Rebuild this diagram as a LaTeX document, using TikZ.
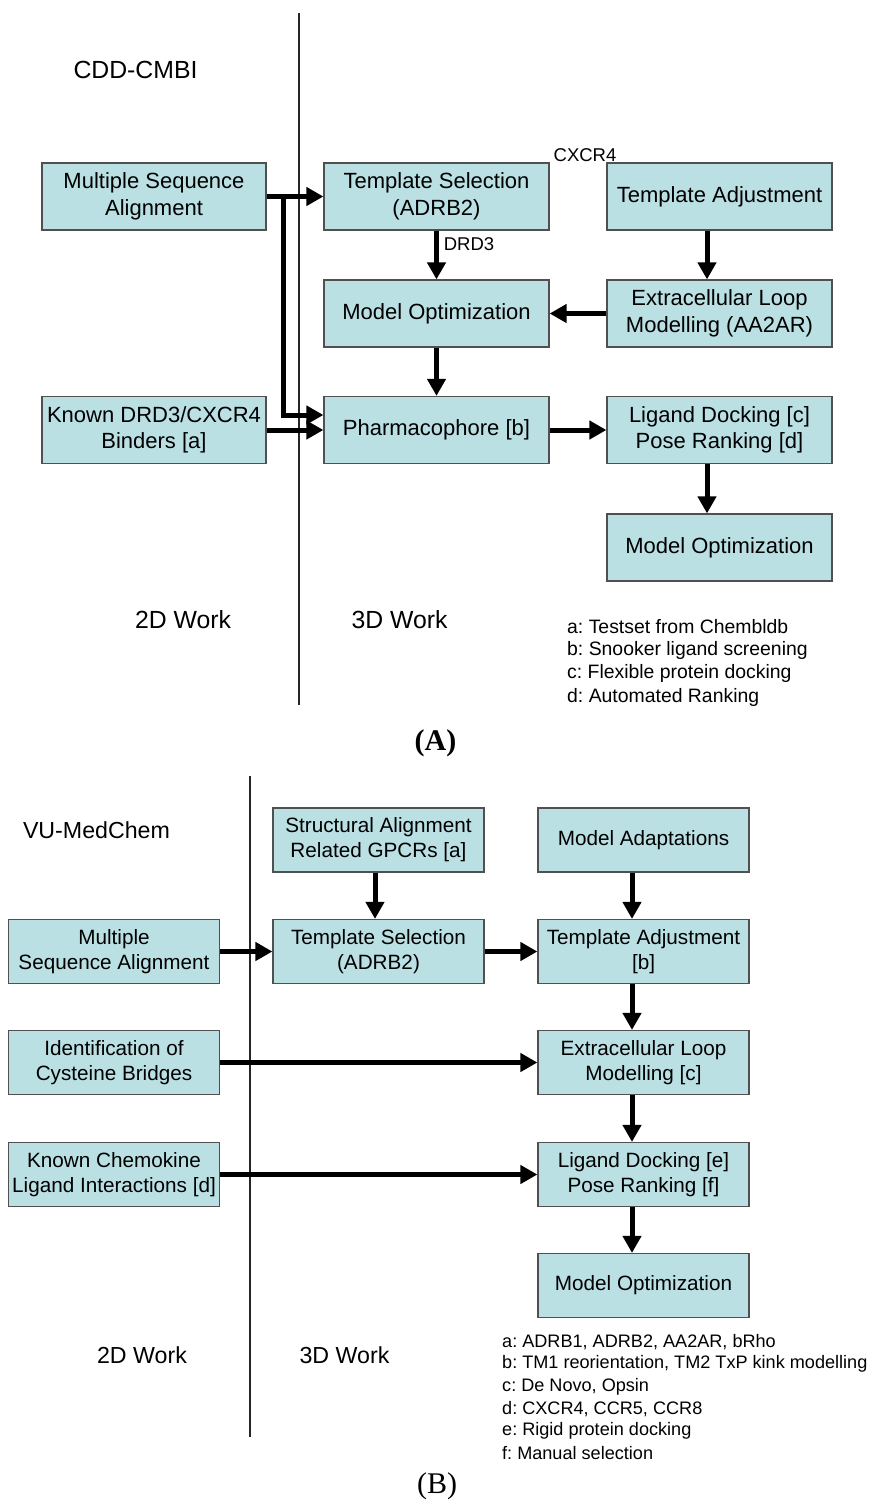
\documentclass[tikz,border=0pt]{standalone}
\usepackage{fontspec}
\setmainfont{Liberation Sans}
\newfontfamily\capfont{Liberation Serif}
\usetikzlibrary{arrows.meta,calc}
\definecolor{boxfill}{RGB}{186,224,228}
\definecolor{boxline}{RGB}{80,80,80}
\frenchspacing
\tikzset{
  box/.style={draw=boxline, fill=boxfill, line width=1.2pt, align=center, inner sep=0pt},
  boxA/.style={box, minimum width=225pt, minimum height=67pt, font=\fontsize{22}{26.5}\selectfont},
  boxB/.style={box, minimum width=211pt, minimum height=64pt, font=\fontsize{20.7}{25}\selectfont},
  arr/.style={line width=5pt, -{Triangle[length=17pt,width=18pt]}},
  lblA/.style={inner sep=0pt, font=\fontsize{24.8}{28}\selectfont},
  lblB/.style={inner sep=0pt, font=\fontsize{23.2}{27}\selectfont},
  small/.style={inner sep=0pt, font=\fontsize{18.5}{22}\selectfont},
  noteA/.style={anchor=west, inner sep=0pt, font=\fontsize{19.4}{23}\selectfont},
  noteB/.style={anchor=west, inner sep=0pt, font=\fontsize{18.1}{22}\selectfont},
  divider/.style={line width=1.2pt, draw=black!85},
  caption/.style={inner sep=0pt, font=\capfont\fontsize{30}{34}\selectfont}
}
\begin{document}
\begin{tikzpicture}[x=1pt,y=-1pt]
\useasboundingbox (0,0) rectangle (870,1504);

% ---------------- Panel A ----------------
\coordinate (lineAtop) at (299,13);
\coordinate (lineAbot) at (299,705);
\draw[divider] (lineAtop) -- (lineAbot);

\node[lblA] (cdd) at (135.5,70) {CDD-CMBI};

\node[boxA, minimum width=224pt] (msaA) at (154,196.5) {Multiple Sequence\\Alignment};
\node[boxA, minimum width=224pt] (knownA) at (154,430) {Known DRD3/CXCR4\\Binders [a]};
\node[boxA] (tsA) at (436.5,196.5) {Template Selection\\(ADRB2)};
\node[boxA] (moA) at (436.5,313.5) {Model Optimization};
\node[boxA] (phA) at (436.5,430) {Pharmacophore [b]};
\node[boxA] (taA) at (719.5,196.5) {Template Adjustment};
\node[boxA] (elmA) at (719.5,313.5) {Extracellular Loop\\Modelling (AA2AR)};
\node[boxA] (ldA) at (719.5,430) {Ligand Docking [c]\\Pose Ranking [d]};
\node[boxA] (mo2A) at (719.5,547.5) {Model Optimization};

\node[small] (cxcr) at (585,155) {CXCR4};
\node[small] (drd) at (469,244) {DRD3};

\draw[arr] (msaA.east) -- (tsA.west);
\coordinate (brA) at (283,196.5);
\draw[arr] (brA) |- ($(phA.west)+(0,-15)$);
\draw[arr] (knownA.east) -- (phA.west);
\draw[arr] (tsA.south) -- (moA.north);
\draw[arr] ($(taA.south)+(-12.5,0)$) -- ($(elmA.north)+(-12.5,0)$);
\draw[arr] (elmA.west) -- (moA.east);
\draw[arr] (moA.south) -- (phA.north);
\draw[arr] (phA.east) -- (ldA.west);
\draw[arr] ($(ldA.south)+(-12.5,0)$) -- ($(mo2A.north)+(-12.5,0)$);

\node[lblA] (twoA) at (183,620) {2D Work};
\node[lblA] (threeA) at (399.5,620) {3D Work};

\node[noteA] (fa1) at (567,627) {a: Testset from Chembldb};
\node[noteA] (fa2) at (567,650.3) {b: Snooker ligand screening};
\node[noteA] (fa3) at (567,673.6) {c: Flexible protein docking};
\node[noteA] (fa4) at (567,697) {d: Automated Ranking};

\node[caption] (capA) at (435.5,743) {\textbf{(A)}};

% ---------------- Panel B ----------------
\coordinate (lineBtop) at (250,776);
\coordinate (lineBbot) at (250,1437);
\draw[divider] (lineBtop) -- (lineBbot);

\node[lblB] (vu) at (96.5,830) {VU-MedChem};

\node[boxB] (saB) at (378.5,840) {Structural Alignment\\Related GPCRs [a]};
\node[boxB] (maB) at (643.5,840) {Model Adaptations};
\node[boxB] (msaB) at (114,951.5) {Multiple\\Sequence Alignment};
\node[boxB] (tsB) at (378.5,951.5) {Template Selection\\(ADRB2)};
\node[boxB] (taB) at (643.5,951.5) {Template Adjustment\\{[b]}};
\node[boxB] (idB) at (114,1062.5) {Identification of\\Cysteine Bridges};
\node[boxB] (elmB) at (643.5,1062.5) {Extracellular Loop\\Modelling [c]};
\node[boxB] (knB) at (114,1174.5) {Known Chemokine\\Ligand Interactions [d]};
\node[boxB] (ldB) at (643.5,1174.5) {Ligand Docking [e]\\Pose Ranking [f]};
\node[boxB] (moB) at (643.5,1285.5) {Model Optimization};

\draw[arr] ($(saB.south)+(-3.5,0)$) -- ($(tsB.north)+(-3.5,0)$);
\draw[arr] ($(maB.south)+(-11.5,0)$) -- ($(taB.north)+(-11.5,0)$);
\draw[arr] (msaB.east) -- (tsB.west);
\draw[arr] (tsB.east) -- (taB.west);
\draw[arr] ($(taB.south)+(-11.5,0)$) -- ($(elmB.north)+(-11.5,0)$);
\draw[arr] (idB.east) -- (elmB.west);
\draw[arr] ($(elmB.south)+(-11.5,0)$) -- ($(ldB.north)+(-11.5,0)$);
\draw[arr] (knB.east) -- (ldB.west);
\draw[arr] ($(ldB.south)+(-11.5,0)$) -- ($(moB.north)+(-11.5,0)$);

\node[lblB] (twoB) at (142,1355) {2D Work};
\node[lblB] (threeB) at (344.5,1355) {3D Work};

\node[noteB] (fb1) at (502,1342) {a: ADRB1, ADRB2, AA2AR, bRho};
\node[noteB] (fb2) at (502,1364.2) {b: TM1 reorientation, TM2 TxP kink modelling};
\node[noteB] (fb3) at (502,1386.4) {c: De Novo, Opsin};
\node[noteB] (fb4) at (502,1408.6) {d: CXCR4, CCR5, CCR8};
\node[noteB] (fb5) at (502,1430.8) {e: Rigid protein docking};
\node[noteB] (fb6) at (502,1453) {f: Manual selection};

\node[caption] (capB) at (437,1486) {(B)};
\end{tikzpicture}
\end{document}
